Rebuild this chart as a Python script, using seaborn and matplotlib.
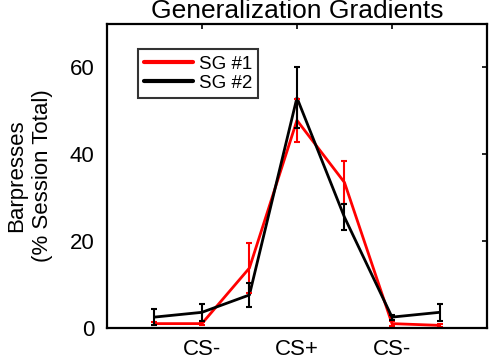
import matplotlib
matplotlib.use("Agg")
import matplotlib.pyplot as plt
import seaborn as sns
import pandas as pd

# Stimulus positions along the generalization dimension
positions = [1, 2, 3, 4, 5, 6, 7]
tick_positions = [2, 4, 6]
tick_labels = ["CS-", "CS+", "CS-"]

# Barpresses as % of session total, mean and SEM per stimulus
sg1_mean = [1.0, 1.0, 13.8, 47.8, 33.5, 1.0, 0.6]
sg1_err = [0.4, 0.3, 5.8, 5.0, 5.0, 0.5, 0.4]
sg2_mean = [2.5, 3.6, 7.6, 53.0, 25.5, 2.5, 3.6]
sg2_err = [1.8, 1.9, 2.8, 7.0, 3.0, 0.6, 1.9]

groups = ["SG #1", "SG #2"]
colors = ["#ff0000", "#000000"]

df = pd.concat([
    pd.DataFrame({"pos": positions, "value": sg1_mean, "err": sg1_err, "group": groups[0]}),
    pd.DataFrame({"pos": positions, "value": sg2_mean, "err": sg2_err, "group": groups[1]}),
], ignore_index=True)

sns.set_style("white")
plt.rcParams["font.family"] = ["Liberation Sans", "DejaVu Sans"]
plt.rcParams["text.color"] = "black"
plt.rcParams["axes.labelcolor"] = "black"

fig = plt.figure(figsize=(4.9, 3.62), dpi=100)
ax = fig.add_axes([0.218, 0.094, 0.776, 0.840])

sns.lineplot(data=df, x="pos", y="value", hue="group", palette=colors,
             hue_order=groups, linewidth=2, ax=ax, legend=False)

for g, c in zip(groups, colors):
    sub = df[df["group"] == g]
    ax.errorbar(sub["pos"], sub["value"], yerr=sub["err"], fmt="none",
                ecolor=c, elinewidth=1.5, capsize=2.2, capthick=1.5)

ax.set_xlim(0, 8)
ax.set_ylim(0, 70)
ax.set_xticks(tick_positions)
ax.set_xticklabels(tick_labels)
ax.set_yticks([0, 20, 40, 60])
ax.tick_params(direction="in", top=True, right=True, length=3.5, width=1.2,
               labelsize=16, colors="black")
ax.tick_params(axis="x", pad=8)
ax.tick_params(axis="y", pad=9)
for s in ax.spines.values():
    s.set_visible(True)
    s.set_linewidth(1.6)
    s.set_color("black")

ax.set_xlabel("")
ax.set_ylabel("Barpresses\n(% Session Total)", fontsize=16, labelpad=12,
              linespacing=1.3, color="black")
ax.set_title("Generalization Gradients", fontsize=19, pad=4, color="black")

handles = [plt.Line2D([], [], color=c, linewidth=3) for c in colors]
leg = ax.legend(handles, groups, loc="upper left", bbox_to_anchor=(0.081, 0.918),
                fontsize=13.5, frameon=True, fancybox=False, edgecolor="black",
                handlelength=2.6, handletextpad=0.3, borderpad=0.35,
                labelspacing=0.1, borderaxespad=0)
leg.get_frame().set_linewidth(1.5)

fig.savefig("out.png", dpi=100)
